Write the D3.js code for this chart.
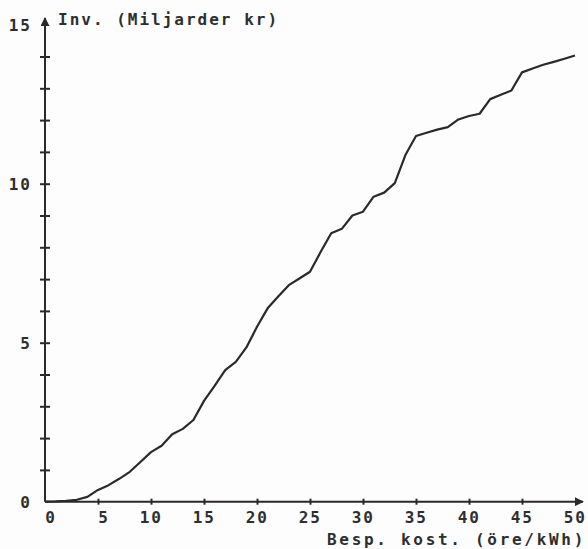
<!DOCTYPE html>
<html>
<head>
<meta charset="utf-8">
<script src="https://cdn.jsdelivr.net/npm/d3@7"></script>
<style>
  html, body { margin: 0; padding: 0; background: #fdfdfd; }
  svg text { font-family: "DejaVu Sans Mono", "Liberation Mono", monospace; font-weight: bold; font-size: 16px; fill: #2e2e2e; letter-spacing: 2px; }
  svg text.xtitle { letter-spacing: 2.7px; }
</style>
</head>
<body>
<svg id="chart" width="588" height="549"></svg>
<script>
// Saving cost (öre/kWh) against cumulative investment (billion kr)
const cost = [0,1,2,3,4,5,6,7,8,9,10,11,12,13,14,15,16,17,18,19,20,21,22,23,24,25,
  26,27,28,29,30,31,32,33,34,35,36,37,38,39,40,41,42,43,44,45,46,47,48,49,50];
const investment = [0,0.01,0.03,0.06,0.15,0.37,0.52,0.72,0.94,1.25,1.56,1.76,2.12,2.29,2.57,
  3.17,3.64,4.14,4.4,4.85,5.5,6.08,6.45,6.81,7.02,7.23,7.85,8.44,8.58,9.0,9.12,9.59,9.72,
  10.02,10.9,11.5,11.6,11.7,11.78,12.02,12.13,12.2,12.66,12.8,12.93,13.5,13.62,13.74,13.83,
  13.93,14.03];
const xTickValues = [0,5,10,15,20,25,30,35,40,45,50];
const yLabelValues = [0,5,10,15];
const yMinorValues = [1,2,3,4,5,6,7,8,9,10,11,12,13,14];
const yTitle = "Inv. (Miljarder kr)";
const xTitle = "Besp. kost. (öre/kWh)";

const svg = d3.select("#chart");
const ink = "#2a2a2a";

const x = d3.scaleLinear().domain([0, 50]).range([45, 575]);
const y = d3.scaleLinear().domain([0, 15]).range([501.7, 24.7]);

// arrowheads for both axes
const defs = svg.append("defs");
defs.append("marker")
  .attr("id", "arrow")
  .attr("viewBox", "0 0 10 10")
  .attr("refX", 9).attr("refY", 5)
  .attr("markerWidth", 9).attr("markerHeight", 9)
  .attr("markerUnits", "userSpaceOnUse")
  .attr("orient", "auto")
  .append("path")
  .attr("d", "M0,0 L10,5 L0,10 Z")
  .attr("fill", ink);

// x axis: ticks crossing the line, labels in a two-character field
const xAxis = d3.axisBottom(x)
  .tickValues(xTickValues.filter(v => v > 0 && v < 50))
  .tickSize(3)
  .tickFormat(d3.format("d"));
const gx = svg.append("g").attr("transform", `translate(0,${y(0)})`).call(xAxis);
gx.select(".domain").remove();
gx.selectAll(".tick line").attr("y1", -3).attr("y2", 3).attr("stroke", ink).attr("stroke-width", 2);
gx.selectAll(".tick text").remove();

svg.append("g").selectAll("text")
  .data(xTickValues)
  .join("text")
  .attr("x", d => x(d) + 12)
  .attr("y", 523)
  .attr("text-anchor", "end")
  .text(d => d);

svg.append("line")
  .attr("x1", x(0)).attr("x2", 583)
  .attr("y1", y(0)).attr("y2", y(0))
  .attr("stroke", ink).attr("stroke-width", 2)
  .attr("marker-end", "url(#arrow)");

// y axis: minor tick at every unit, labels at 0, 5, 10, 15
const yAxis = d3.axisLeft(y)
  .tickValues(yMinorValues)
  .tickSize(5)
  .tickFormat("");
const gy = svg.append("g").attr("transform", `translate(${x(0)},0)`).call(yAxis);
gy.select(".domain").remove();
gy.selectAll(".tick line").attr("x1", -5).attr("x2", 5).attr("stroke", ink).attr("stroke-width", 2);

svg.append("g").selectAll("text")
  .data(yLabelValues)
  .join("text")
  .attr("x", 32)
  .attr("y", d => y(d) + 6)
  .attr("text-anchor", "end")
  .text(d => d);

svg.append("line")
  .attr("x1", x(0)).attr("x2", x(0))
  .attr("y1", y(0)).attr("y2", 18)
  .attr("stroke", ink).attr("stroke-width", 2)
  .attr("marker-end", "url(#arrow)");

// axis titles
svg.append("text").attr("x", 58).attr("y", 25).text(yTitle);
svg.append("text").attr("class", "xtitle").attr("x", 586).attr("y", 545).attr("text-anchor", "end").text(xTitle);

// cost curve
const line = d3.line()
  .x((d, i) => x(cost[i]))
  .y(d => y(d));
svg.append("path")
  .datum(investment)
  .attr("d", line)
  .attr("fill", "none")
  .attr("stroke", ink)
  .attr("stroke-width", 2.2)
  .attr("stroke-linejoin", "round");
</script>
</body>
</html>
